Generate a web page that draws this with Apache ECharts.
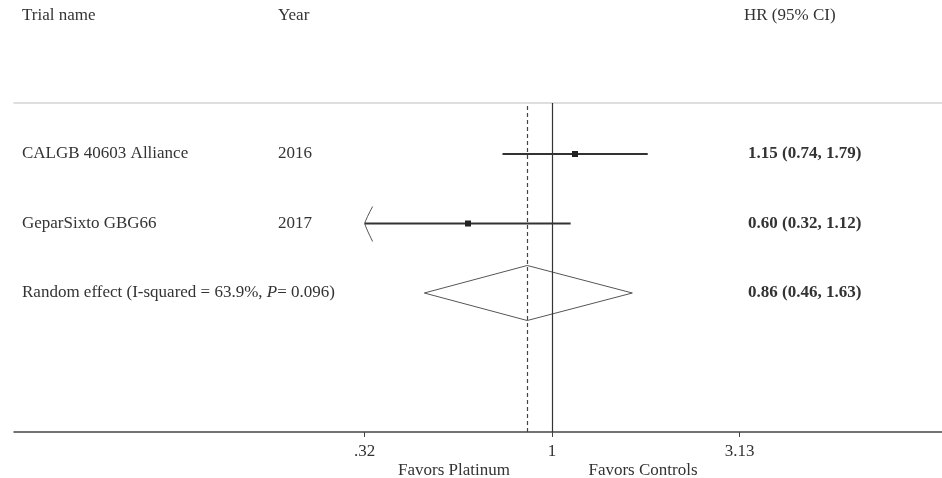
<!DOCTYPE html>
<html>
<head>
<meta charset="utf-8">
<script src="https://cdn.jsdelivr.net/npm/echarts@6/dist/echarts.min.js"></script>
<style>
  html, body { margin: 0; padding: 0; background: #fff; }
  #chart { width: 942px; height: 478px; }
</style>
</head>
<body>
<div id="chart"></div>
<script>
// study rows (top to bottom)
var trials = ['CALGB 40603 Alliance', 'GeparSixto GBG66'];
var years = ['2016', '2017'];
var hr = [1.15, 0.60];
var lower = [0.74, 0.32];
var upper = [1.79, 1.12];
var hrText = ['1.15 (0.74, 1.79)', '0.60 (0.32, 1.12)'];

// pooled estimate
var pooledHr = 0.86;
var pooledCI = [0.46, 1.63];
var pooledText = '0.86 (0.46, 1.63)';

// axis
var xTicks = [0.32, 1, 3.13];
var xTickLabels = ['.32', '1', '3.13'];
var rowPos = [4, 3, 2];

var serif = 'Liberation Serif';
var txtColor = '#333';
var fs = 17;

var myChart = echarts.init(document.getElementById('chart'));

var studyData = [];
for (var i = 0; i < trials.length; i++) {
    studyData.push([lower[i], upper[i], hr[i], rowPos[i], i]);
}

var option = {
    animation: false,
    grid: {
        left: 14,
        right: 0,
        top: 103,
        bottom: 46
    },
    xAxis: [
        {
            type: 'log',
            logBase: 10,
            min: 0.03794,
            max: 10.715,
            position: 'bottom',
            axisLine: { lineStyle: { color: '#444', width: 1.5 } },
            axisTick: {
                customValues: xTicks,
                length: 5,
                lineStyle: { color: '#444' }
            },
            axisLabel: {
                customValues: xTicks,
                margin: 11,
                fontFamily: serif,
                fontSize: fs,
                color: txtColor,
                formatter: function (v) {
                    for (var k = 0; k < xTicks.length; k++) {
                        if (Math.abs(v - xTicks[k]) < 1e-6) return xTickLabels[k];
                    }
                    return '';
                }
            },
            splitLine: { show: false },
            minorTick: { show: false }
        },
        {
            // thin rule under the header
            type: 'log',
            logBase: 10,
            min: 0.03794,
            max: 10.715,
            position: 'top',
            axisLine: { lineStyle: { color: '#d4d4d4', width: 1.5 } },
            axisTick: { show: false },
            axisLabel: { show: false },
            splitLine: { show: false }
        }
    ],
    yAxis: {
        type: 'value',
        min: 0,
        max: 4.734,
        show: false
    },
    graphic: [
        { type: 'text', left: 22, top: 7, style: { text: 'Trial name', font: fs + 'px ' + serif, fill: txtColor } },
        { type: 'text', left: 278, top: 7, style: { text: 'Year', font: fs + 'px ' + serif, fill: txtColor } },
        { type: 'text', left: 744, top: 7, style: { text: 'HR (95% CI)', font: fs + 'px ' + serif, fill: txtColor } },
        { type: 'text', x: 454, y: 471, style: { text: 'Favors Platinum', font: fs + 'px ' + serif, fill: txtColor, align: 'center', verticalAlign: 'middle' } },
        { type: 'text', x: 643, y: 471, style: { text: 'Favors Controls', font: fs + 'px ' + serif, fill: txtColor, align: 'center', verticalAlign: 'middle' } }
    ],
    series: [
        {
            // reference lines: no effect (solid) and pooled estimate (dashed)
            type: 'line',
            data: [],
            markLine: {
                silent: true,
                symbol: 'none',
                label: { show: false },
                data: [
                    { xAxis: 1, lineStyle: { color: '#333', width: 1.2, type: 'solid' } },
                    { xAxis: pooledHr, lineStyle: { color: '#444', width: 1.2, type: [4, 3] } }
                ]
            }
        },
        {
            // study CIs
            type: 'custom',
            data: studyData,
            encode: { x: [0, 1, 2], y: 3 },
            renderItem: function (params, api) {
                var y = api.value(3);
                var idx = api.value(4);
                var p1 = api.coord([api.value(0), y]);
                var p2 = api.coord([api.value(1), y]);
                var pc = api.coord([api.value(2), y]);
                var children = [
                    {
                        type: 'line',
                        shape: { x1: p1[0], y1: p1[1], x2: p2[0], y2: p2[1] },
                        style: { stroke: '#333', lineWidth: 2 }
                    },
                    {
                        type: 'rect',
                        shape: { x: pc[0] - 3, y: pc[1] - 3, width: 6, height: 6 },
                        style: { fill: '#222' }
                    },
                    {
                        type: 'text',
                        style: { text: trials[idx], x: 22, y: pc[1], verticalAlign: 'middle', font: fs + 'px ' + serif, fill: txtColor }
                    },
                    {
                        type: 'text',
                        style: { text: years[idx], x: 278, y: pc[1], verticalAlign: 'middle', font: fs + 'px ' + serif, fill: txtColor }
                    },
                    {
                        type: 'text',
                        style: { text: hrText[idx], x: 748, y: pc[1], verticalAlign: 'middle', font: 'bold ' + fs + 'px ' + serif, fill: txtColor }
                    }
                ];
                // CI reaching the lowest tick is drawn with an arrow
                if (api.value(0) <= xTicks[0] + 1e-9) {
                    children.push({
                        type: 'bezierCurve',
                        shape: { x1: p1[0] + 8, y1: p1[1] - 17, cpx1: p1[0] + 2, cpy1: p1[1] - 6, x2: p1[0], y2: p1[1] },
                        style: { stroke: '#555', lineWidth: 1, fill: null }
                    });
                    children.push({
                        type: 'bezierCurve',
                        shape: { x1: p1[0], y1: p1[1], cpx1: p1[0] + 2, cpy1: p1[1] + 6, x2: p1[0] + 8, y2: p1[1] + 18 },
                        style: { stroke: '#555', lineWidth: 1, fill: null }
                    });
                }
                return { type: 'group', children: children };
            }
        },
        {
            // pooled diamond
            type: 'custom',
            data: [[pooledCI[0], pooledCI[1], pooledHr, rowPos[2]]],
            encode: { x: [0, 1, 2], y: 3 },
            renderItem: function (params, api) {
                var y = api.value(3);
                var h = 0.396;
                var left = api.coord([api.value(0), y]);
                var right = api.coord([api.value(1), y]);
                var top = api.coord([api.value(2), y + h]);
                var bottom = api.coord([api.value(2), y - h]);
                return {
                    type: 'group',
                    children: [
                        {
                            type: 'polygon',
                            shape: { points: [left, top, right, bottom] },
                            style: { fill: 'rgba(255,255,255,0)', stroke: '#555', lineWidth: 1 }
                        },
                        {
                            type: 'text',
                            style: {
                                text: '{n|Random effect (I-squared = 63.9%, }{i|P}{n|= 0.096)}',
                                x: 22, y: left[1], verticalAlign: 'middle',
                                rich: {
                                    n: { fontFamily: serif, fontSize: fs, fill: txtColor },
                                    i: { fontFamily: serif, fontSize: fs, fill: txtColor, fontStyle: 'italic' }
                                }
                            }
                        },
                        {
                            type: 'text',
                            style: { text: pooledText, x: 748, y: left[1], verticalAlign: 'middle', font: 'bold ' + fs + 'px ' + serif, fill: txtColor }
                        }
                    ]
                };
            }
        }
    ]
};
myChart.setOption(option);
window.addEventListener('resize', function () {
    myChart.resize();
});
</script>
</body>
</html>
